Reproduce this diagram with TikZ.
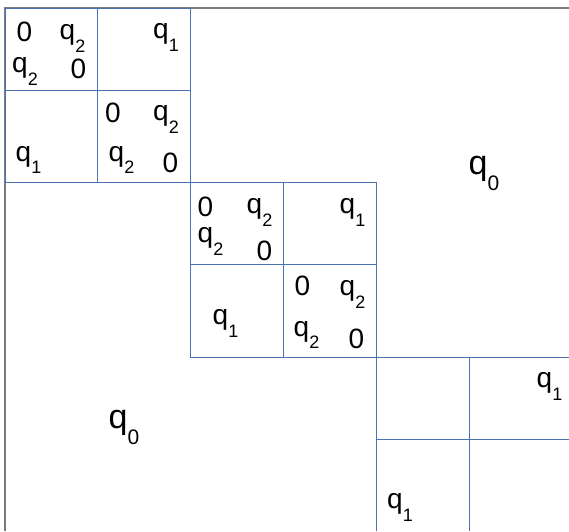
\documentclass[tikz,border=0pt]{standalone}
\usepackage{fontspec}
\setmainfont{Liberation Sans}
\definecolor{gridblue}{HTML}{4A72B5}
\definecolor{framegray}{HTML}{7A7A7A}
\newcommand\qsm[1]{q\raisebox{-12.5pt}{\fontsize{18pt}{18pt}\selectfont #1}}
\newcommand\qbg[1]{q\raisebox{-15.3pt}{\fontsize{21pt}{21pt}\selectfont #1}}
\begin{document}
\begin{tikzpicture}[x=1pt,y=-1pt,
  frameline/.style={draw=framegray,line width=1.5pt},
  gridline/.style={draw=gridblue,line width=1pt},
  small/.style={inner sep=0pt,font=\fontsize{28pt}{28pt}\selectfont},
  big/.style={inner sep=0pt,font=\fontsize{34pt}{34pt}\selectfont}]
\useasboundingbox (0,0) rectangle (569,531);
\fill[white] (0,0) rectangle (569,531);
% outer frame
\draw[frameline] (5,531) -- (5,8) -- (569,8);
% block 1
\draw[gridline] (5,8) rectangle (190,182);
\draw[gridline] (97.5,8) -- (97.5,182);
\draw[gridline] (5,90) -- (190,90);
% block 2
\draw[gridline] (190,182) rectangle (376,357);
\draw[gridline] (283,182) -- (283,357);
\draw[gridline] (190,264) -- (376,264);
% block 3
\draw[gridline] (376,531) -- (376,357) -- (569,357);
\draw[gridline] (469,357) -- (469,531);
\draw[gridline] (376,439) -- (569,439);
% block 1 texts
\node[small] (a1) at (24.5,32) {0};
\node[small] (a2) at (72.5,38.5) {\qsm{2}};
\node[small] (a3) at (25,71.5) {\qsm{2}};
\node[small] (a4) at (78.5,69) {0};
\node[small] (a5) at (166,37.5) {\qsm{1}};
\node[small] (a6) at (28.5,160) {\qsm{1}};
\node[small] (a7) at (113,112.5) {0};
\node[small] (a8) at (166,119.5) {\qsm{2}};
\node[small] (a9) at (121.5,160) {\qsm{2}};
\node[small] (a10) at (170.5,163) {0};
% block 2 texts
\node[small] (b1) at (205.5,206.5) {0};
\node[small] (b2) at (259.5,212.5) {\qsm{2}};
\node[small] (b3) at (210.5,241.5) {\qsm{2}};
\node[small] (b4) at (264.5,251) {0};
\node[small] (b5) at (352.5,212.5) {\qsm{1}};
\node[small] (b6) at (225.5,323.5) {\qsm{1}};
\node[small] (b7) at (302.5,286) {0};
\node[small] (b8) at (352.5,294.5) {\qsm{2}};
\node[small] (b9) at (306.5,335) {\qsm{2}};
\node[small] (b10) at (356.5,338.5) {0};
% block 3 texts
\node[small] (c1) at (549.5,386.5) {\qsm{1}};
\node[small] (c2) at (400,507.5) {\qsm{1}};
% big labels
\node[big] (d1) at (484,173.5) {\qbg{0}};
\node[big] (d2) at (124,427.5) {\qbg{0}};
\end{tikzpicture}
\end{document}
